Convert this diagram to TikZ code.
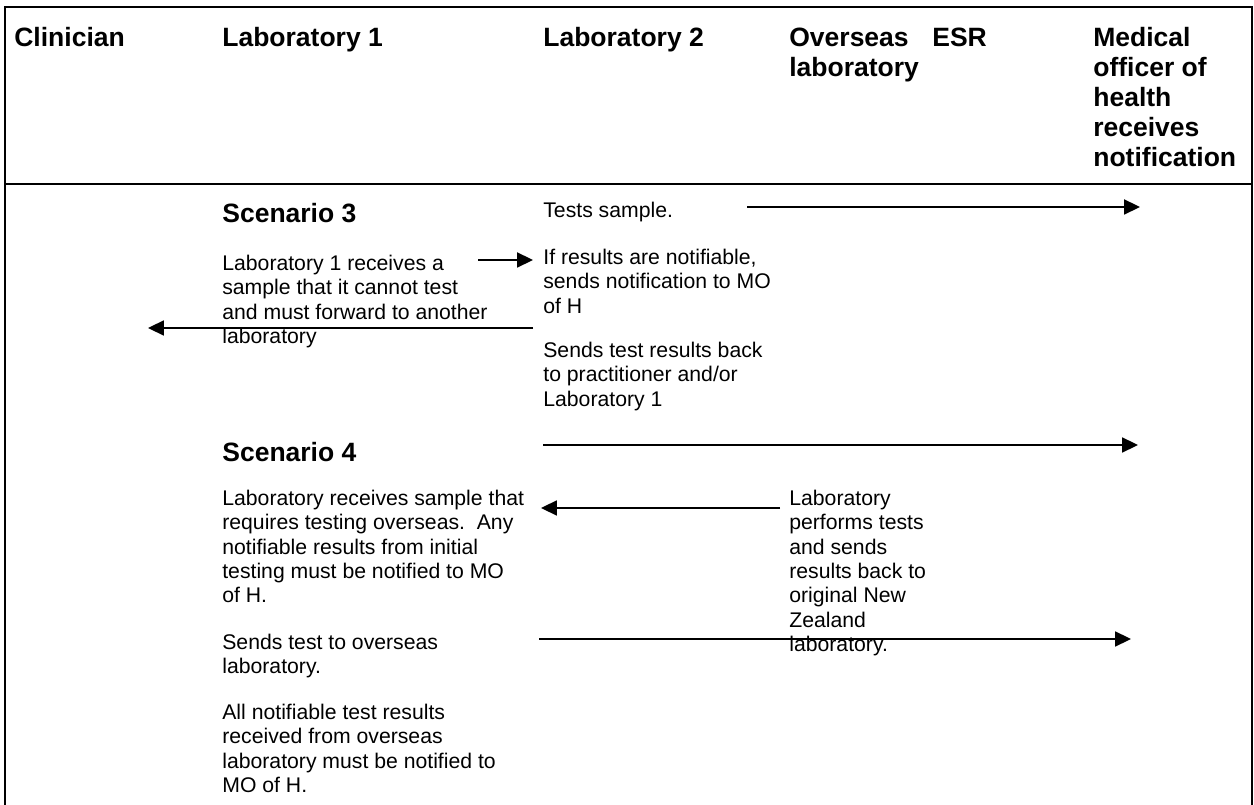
\documentclass[tikz,border=0pt]{standalone}
\usepackage{fontspec}
\setmainfont{Liberation Sans}
\usetikzlibrary{arrows.meta}

% fixed first-line heights, so that node tops give known baselines
\newcommand\bodystrut{\rule{0pt}{9pt}}
\newcommand\headstrut{\rule{0pt}{11.5pt}}

\tikzset{
  frame/.style={line width=1.5pt, line cap=rect},
  flow/.style={line width=1pt, -{Triangle[length=9pt,width=8.5pt]}},
  head/.style={anchor=north west, inner sep=0pt, align=left,
    font=\fontsize{15}{17}\selectfont\bfseries},
  body/.style={anchor=north west, inner sep=0pt, align=left,
    font=\fontsize{12}{13.8}\selectfont},
}

\begin{document}
\begin{tikzpicture}[x=0.566pt, y=-0.566pt]
  \useasboundingbox (0,0) rectangle (1254,805);

  % table frame, open at the bottom
  \draw[frame] (5,805) -- (5,7) -- (1252,7) -- (1252,805);
  \draw[frame] (5,184) -- (1252,184);

  % column headings
  \node[head] (hClin) at (14,26)  {\headstrut Clinician};
  \node[head] (hLabA) at (222,26) {\headstrut Laboratory 1};
  \node[head] (hLabB) at (543,26) {\headstrut Laboratory 2};
  \node[head] (hOver) at (789,26) {\headstrut Overseas\\laboratory};
  \node[head] (hESR)  at (932,26) {\headstrut ESR};
  \node[head] (hMOH)  at (1093,26) {\headstrut Medical\\officer of\\health\\receives\\notification};

  % scenario 3
  \node[head] (scA) at (222,202) {\headstrut Scenario 3};
  \node[body] (labArecv) at (222,254)
    {\bodystrut Laboratory 1 receives a\\sample that it cannot test\\and must forward to another\\laboratory};
  \node[body] (tests) at (543,201) {\bodystrut Tests sample.};
  \node[body] (ifres) at (543,248)
    {\bodystrut If results are notifiable,\\sends notification to MO\\of H};
  \node[body] (sendback) at (543,341)
    {\bodystrut Sends test results back\\to practitioner and/or\\Laboratory 1};

  % scenario 4
  \node[head] (scB) at (222,441) {\headstrut Scenario 4};
  \node[body] (labrecv) at (222,489)
    {\bodystrut Laboratory receives sample that\\requires testing overseas.\ \ Any\\notifiable results from initial\\testing must be notified to MO\\of H.};
  \node[body] (sendover) at (222,633)
    {\bodystrut Sends test to overseas\\laboratory.};
  \node[body] (allnot) at (222,703)
    {\bodystrut All notifiable test results\\received from overseas\\laboratory must be notified to\\MO of H.};
  \node[body] (overtext) at (789,489)
    {\bodystrut Laboratory\\performs tests\\and sends\\results back to\\original New\\Zealand\\laboratory.};

  % arrow end points
  \coordinate (aAs) at (747,207);  \coordinate (aAe) at (1140,207);
  \coordinate (aBs) at (478,260);  \coordinate (aBe) at (533,260);
  \coordinate (aCs) at (533,328);  \coordinate (aCe) at (148,328);
  \coordinate (aDs) at (543,445);  \coordinate (aDe) at (1138,445);
  \coordinate (aEs) at (780,508);  \coordinate (aEe) at (541,508);
  \coordinate (aFs) at (539,639);  \coordinate (aFe) at (1131,639);

  \draw[flow] (aAs) -- (aAe);
  \draw[flow] (aBs) -- (aBe);
  \draw[flow] (aCs) -- (aCe);
  \draw[flow] (aDs) -- (aDe);
  \draw[flow] (aEs) -- (aEe);
  \draw[flow] (aFs) -- (aFe);
\end{tikzpicture}
\end{document}
